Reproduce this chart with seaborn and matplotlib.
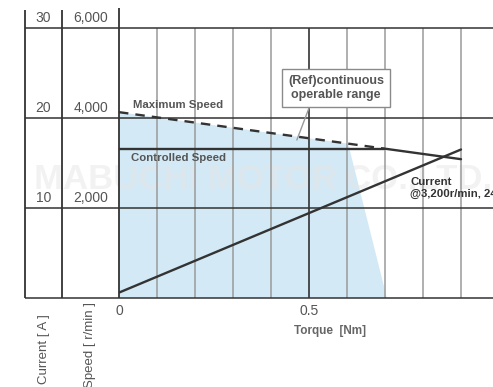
import numpy as np
import pandas as pd
import matplotlib
matplotlib.use("Agg")
import matplotlib.pyplot as plt
import seaborn as sns

# chart values
torque_max = [0.0, 0.698, 0.9]
speed_max = [4130, 3320, 3085]
torque_ctrl = [0.0, 0.698]
speed_ctrl = [3320, 3320]
torque_cur = [0.0, 0.9]
current_cur = [0.6, 16.5]
region_torque = [0.0, 0.0, 0.603, 0.705]
region_speed = [0, 4130, 3430, 0]
torque_grid = [0.1, 0.2, 0.3, 0.4, 0.6, 0.7, 0.8, 0.9]
torque_ticks = [0, 0.5, 1]
torque_labels = ["0", "0.5", "1"]
speed_ticks = [2000, 4000, 6000]
speed_labels = ["2,000", "4,000", "6,000"]
current_labels = ["10", "20", "30"]

sns.set_style("white")
plt.rcParams['font.family'] = ['Liberation Sans', 'DejaVu Sans']

dark = "#333333"
grey_txt = "#555555"
grid_c = "#9a9a9a"
blue = "#d3e9f6"

fig = plt.figure(figsize=(4.93, 3.87), dpi=100)
ax = fig.add_axes([119 / 493, 89 / 387, 380 / 493, 288 / 387])
ax.set_xlim(0, 1)
ax.set_ylim(0, 6400)
ax.axis("off")
ax2 = ax.twinx()
ax2.set_position(ax.get_position())
ax2.set_ylim(0, 32)
ax2.axis("off")

x_cur_col = (25 - 119) / 380
x_spd_col = (62 - 119) / 380

# shaded continuous operating range
ax.fill(region_torque, region_speed, color=blue, lw=0, zorder=1)

# watermark
ax.text(0.38, 2640, "MABUCHI MOTOR CO.,LTD.", fontsize=25, fontweight="bold",
        color="#e6e6e6", alpha=0.5, ha="center", va="center", zorder=2, clip_on=False)

# grid
ax.vlines(torque_grid, 0, 6000, color=grid_c, lw=1.1, zorder=2)
ax.vlines([0.5], 0, 6000, color=dark, lw=1.2, zorder=2)
ax.vlines([0.0], 0, 6450, color=dark, lw=1.3, zorder=3, clip_on=False)
ax.vlines([x_cur_col, x_spd_col], 0, 6400, color=dark, lw=1.3, zorder=3, clip_on=False)
ax.hlines([0] + speed_ticks, x_cur_col, 1.05, color=dark, lw=1.1, zorder=2, clip_on=False)

# speed lines
df_max = pd.DataFrame({"torque": torque_max, "speed": speed_max})
sns.lineplot(data=df_max.iloc[:2], x="torque", y="speed", ax=ax, color=dark,
             lw=1.7, linestyle=(0, (4, 3)), zorder=4)
sns.lineplot(data=df_max.iloc[1:], x="torque", y="speed", ax=ax, color=dark,
             lw=1.7, zorder=4)
df_ctrl = pd.DataFrame({"torque": torque_ctrl, "speed": speed_ctrl})
sns.lineplot(data=df_ctrl, x="torque", y="speed", ax=ax, color=dark, lw=1.7, zorder=4)

# current line on the current scale
df_cur = pd.DataFrame({"torque": torque_cur, "current": current_cur})
sns.lineplot(data=df_cur, x="torque", y="current", ax=ax2, color=dark, lw=1.7, zorder=4)

# left scales
for v, sl, cl in zip(speed_ticks, speed_labels, current_labels):
    ax.text(x_spd_col / 2, v + 230, sl, ha="center", va="center",
            fontsize=10, color=grey_txt, clip_on=False)
    ax.text(x_cur_col + (x_spd_col - x_cur_col) / 2, v + 230, cl, ha="center", va="center",
            fontsize=10, color=grey_txt, clip_on=False)

ax.text(x_cur_col + (x_spd_col - x_cur_col) / 2, -360, "Current [ A ]", rotation=90,
        ha="center", va="top", fontsize=9.5, color=grey_txt, clip_on=False)
ax.text(x_spd_col / 2, -80, "Speed [ r/min ]", rotation=90,
        ha="center", va="top", fontsize=9.5, color=grey_txt, clip_on=False)

# torque axis
for t, lab in zip(torque_ticks, torque_labels):
    ax.text(t, -290, lab, ha="center", va="center", fontsize=10, color=grey_txt, clip_on=False)
ax.text(0.555, -730, "Torque  [Nm]", ha="center", va="center", fontsize=8.5,
        color="#666666", fontweight="bold", clip_on=False)

# labels
ax.text(0.037, 4290, "Maximum Speed", ha="left", va="center", fontsize=8.2,
        color=grey_txt, fontweight="bold")
ax.text(0.032, 3110, "Controlled Speed", ha="left", va="center", fontsize=8.2,
        color=grey_txt, fontweight="bold")
ax.text(0.766, 2440, "Current\n@3,200r/min, 24V", ha="left", va="center", fontsize=8.2,
        color=dark, fontweight="bold", linespacing=1.3, clip_on=False)

# annotation for continuous range
ax.plot([0.5, 0.468], [4222, 3511], color=grid_c, lw=1.0, zorder=5)
ax.text(0.571, 4667, "(Ref)continuous\noperable range", ha="center", va="center",
        fontsize=9, color=grey_txt, fontweight="bold", linespacing=1.3, zorder=6,
        bbox=dict(boxstyle="square,pad=0.45", fc="white", ec="#8a8a8a", lw=1.0))

fig.savefig("out.png", dpi=100)
